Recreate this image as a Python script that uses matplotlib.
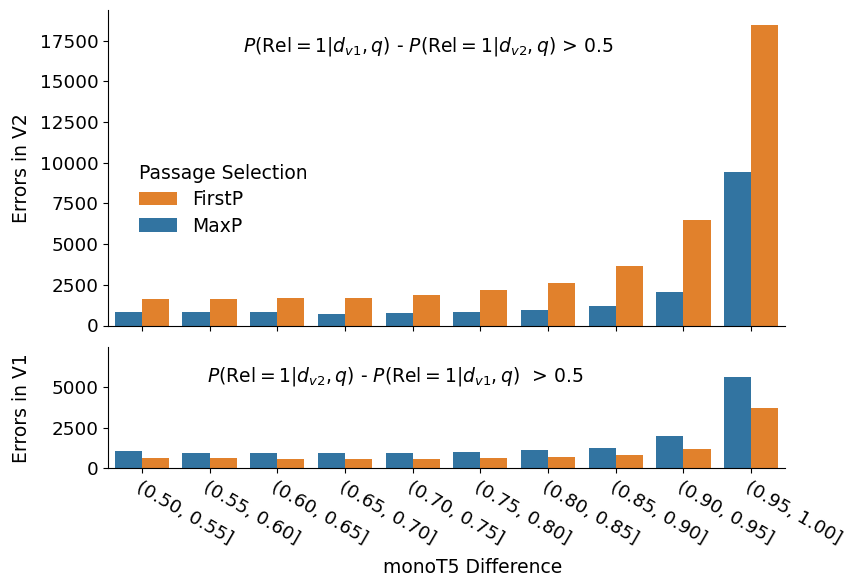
import matplotlib
matplotlib.use("Agg")
import matplotlib.pyplot as plt
import numpy as np

categories = ["(0.50, 0.55]", "(0.55, 0.60]", "(0.60, 0.65]", "(0.65, 0.70]", "(0.70, 0.75]",
              "(0.75, 0.80]", "(0.80, 0.85]", "(0.85, 0.90]", "(0.90, 0.95]", "(0.95, 1.00]"]
v2_maxp = [840, 840, 840, 720, 780, 840, 960, 1210, 2070, 9435]
v2_firstp = [1640, 1640, 1700, 1700, 1885, 2190, 2620, 3665, 6490, 18460]
v1_maxp = [1065, 940, 940, 940, 940, 1000, 1125, 1250, 1985, 5610]
v1_firstp = [635, 635, 570, 570, 570, 635, 695, 820, 1185, 3705]

blue = "#3274a1"
orange = "#e1812c"
FS = 13.2
LFS = 13.5

plt.rcParams['font.family'] = ['DejaVu Sans']
fig = plt.figure(figsize=(8.49, 5.75), dpi=100)
W, H = 849, 575
def ax_rect(l, t, r, b):
    return [l / W, 1 - b / H, (r - l) / W, (b - t) / H]

ax1 = fig.add_axes(ax_rect(108, 10, 785, 325.5))
ax2 = fig.add_axes(ax_rect(108, 347, 785, 468.3))

x = np.arange(len(categories))
w = 0.4
for ax, mp, fp in [(ax1, v2_maxp, v2_firstp), (ax2, v1_maxp, v1_firstp)]:
    ax.bar(x - w / 2, mp, width=w, color=blue, label="MaxP")
    ax.bar(x + w / 2, fp, width=w, color=orange, label="FirstP")
    ax.set_xlim(-0.5, len(categories) - 0.5)
    ax.spines['top'].set_visible(False)
    ax.spines['right'].set_visible(False)
    ax.set_xticks(x)
    ax.tick_params(labelsize=FS)

ax1.set_ylim(0, max(v2_firstp) * 1.05)
ax2.set_ylim(0, 7470)
ax1.set_yticks(np.arange(0, 17501, 2500))
ax2.set_yticks([0, 2500, 5000])
ax1.set_xticklabels([])
ax2.set_xticklabels(categories, rotation=-30, ha='left', rotation_mode='anchor')
ax1.set_ylabel("Errors in V2", fontsize=LFS)
ax2.set_ylabel("Errors in V1", fontsize=LFS)
ax2.set_xlabel("monoT5 Difference", fontsize=LFS)
ax1.yaxis.set_label_coords(-0.1285, 0.5)
ax2.yaxis.set_label_coords(-0.1285, 0.5)
ax2.xaxis.set_label_coords(0.539, -0.814)
ax2.xaxis.label.set_va('center')
ax1.yaxis.label.set_va('center')
ax2.yaxis.label.set_va('center')

ax1.text(0.4727, 0.884, r"$P(\mathrm{Rel}=1|d_{v1},q)$ - $P(\mathrm{Rel}=1|d_{v2},q)$ > 0.5",
         transform=ax1.transAxes, ha='center', va='center', fontsize=LFS)
ax2.text(0.424, 0.76, r"$P(\mathrm{Rel}=1|d_{v2},q)$ - $P(\mathrm{Rel}=1|d_{v1},q)$  > 0.5",
         transform=ax2.transAxes, ha='center', va='center', fontsize=LFS)

handles, labels = ax1.get_legend_handles_labels()
ax1.legend(handles[::-1], labels[::-1], title="Passage Selection", frameon=False,
           fontsize=LFS, title_fontsize=LFS, loc='upper left', alignment='left',
           bbox_to_anchor=(0.035, 0.537), borderaxespad=0, labelspacing=0.4)

fig.savefig("out.png", dpi=100)
